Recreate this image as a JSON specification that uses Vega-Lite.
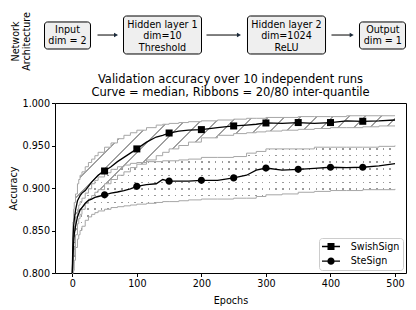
{
"$schema": "https://vega.github.io/schema/vega-lite/v6.json",
"padding": {"left": 7, "top": 11, "right": 5, "bottom": 5},
"spacing": 2,
"resolve": {"legend": {"shape": "independent"}},
"config": {
  "font": "DejaVu Sans",
  "view": {"stroke": null},
  "axis": {"labelFontSize": 9.6, "titleFontSize": 9.6, "titleFontWeight": "normal", "labelColor": "black", "titleColor": "black", "tickColor": "black", "tickSize": 3.5, "labelPadding": 2, "grid": false, "domain": false},
  "title": {"color": "black"}
},
"datasets": {
  "boxes": [
    {"label": "Input\ndim = 2", "x0": -0.0299, "x1": 0.1011, "y0": 0.362, "y1": 0.828, "xc": 0.0356, "yt": 0.784},
    {"label": "Hidden layer 1\ndim=10\nThreshold", "x0": 0.1952, "x1": 0.4174, "y0": 0.276, "y1": 0.931, "xc": 0.3063, "yt": 0.865},
    {"label": "Hidden layer 2\ndim=1024\nReLU", "x0": 0.5484, "x1": 0.7707, "y0": 0.276, "y1": 0.931, "xc": 0.6595, "yt": 0.865},
    {"label": "Output\ndim = 1", "x0": 0.8675, "x1": 0.9986, "y0": 0.362, "y1": 0.828, "xc": 0.9339, "yt": 0.784}
  ],
  "arrows": [
    {"x0": 0.1211, "x1": 0.1738, "y": 0.603},
    {"x0": 0.4316, "x1": 0.5242, "y": 0.603},
    {"x0": 0.7877, "x1": 0.8453, "y": 0.603}
  ],
  "runs": [
    {"epoch": 0, "series": "SwishSign", "median": 0.800, "lo": 0.800, "hi": 0.800},
    {"epoch": 1, "series": "SwishSign", "median": 0.840, "lo": 0.805, "hi": 0.860},
    {"epoch": 2, "series": "SwishSign", "median": 0.855, "lo": 0.820, "hi": 0.875},
    {"epoch": 3, "series": "SwishSign", "median": 0.862, "lo": 0.830, "hi": 0.883},
    {"epoch": 5, "series": "SwishSign", "median": 0.874, "lo": 0.845, "hi": 0.893},
    {"epoch": 8, "series": "SwishSign", "median": 0.885, "lo": 0.858, "hi": 0.905},
    {"epoch": 10, "series": "SwishSign", "median": 0.888, "lo": 0.864, "hi": 0.910},
    {"epoch": 12, "series": "SwishSign", "median": 0.891, "lo": 0.869, "hi": 0.915},
    {"epoch": 15, "series": "SwishSign", "median": 0.894, "lo": 0.875, "hi": 0.919},
    {"epoch": 20, "series": "SwishSign", "median": 0.897, "lo": 0.882, "hi": 0.925},
    {"epoch": 25, "series": "SwishSign", "median": 0.902, "lo": 0.887, "hi": 0.930},
    {"epoch": 30, "series": "SwishSign", "median": 0.907, "lo": 0.891, "hi": 0.934},
    {"epoch": 35, "series": "SwishSign", "median": 0.911, "lo": 0.895, "hi": 0.938},
    {"epoch": 40, "series": "SwishSign", "median": 0.915, "lo": 0.898, "hi": 0.942},
    {"epoch": 50, "series": "SwishSign", "median": 0.920, "lo": 0.905, "hi": 0.948},
    {"epoch": 60, "series": "SwishSign", "median": 0.925, "lo": 0.910, "hi": 0.953},
    {"epoch": 70, "series": "SwishSign", "median": 0.931, "lo": 0.915, "hi": 0.958},
    {"epoch": 80, "series": "SwishSign", "median": 0.936, "lo": 0.919, "hi": 0.962},
    {"epoch": 90, "series": "SwishSign", "median": 0.941, "lo": 0.924, "hi": 0.965},
    {"epoch": 100, "series": "SwishSign", "median": 0.946, "lo": 0.928, "hi": 0.968},
    {"epoch": 115, "series": "SwishSign", "median": 0.954, "lo": 0.933, "hi": 0.971},
    {"epoch": 130, "series": "SwishSign", "median": 0.960, "lo": 0.938, "hi": 0.974},
    {"epoch": 140, "series": "SwishSign", "median": 0.962, "lo": 0.942, "hi": 0.975},
    {"epoch": 150, "series": "SwishSign", "median": 0.9647, "lo": 0.946, "hi": 0.976},
    {"epoch": 165, "series": "SwishSign", "median": 0.967, "lo": 0.950, "hi": 0.977},
    {"epoch": 180, "series": "SwishSign", "median": 0.968, "lo": 0.954, "hi": 0.978},
    {"epoch": 200, "series": "SwishSign", "median": 0.9687, "lo": 0.959, "hi": 0.979},
    {"epoch": 225, "series": "SwishSign", "median": 0.971, "lo": 0.962, "hi": 0.980},
    {"epoch": 250, "series": "SwishSign", "median": 0.973, "lo": 0.964, "hi": 0.981},
    {"epoch": 270, "series": "SwishSign", "median": 0.974, "lo": 0.965, "hi": 0.982},
    {"epoch": 285, "series": "SwishSign", "median": 0.975, "lo": 0.966, "hi": 0.982},
    {"epoch": 300, "series": "SwishSign", "median": 0.9765, "lo": 0.967, "hi": 0.983},
    {"epoch": 325, "series": "SwishSign", "median": 0.976, "lo": 0.968, "hi": 0.983},
    {"epoch": 350, "series": "SwishSign", "median": 0.977, "lo": 0.969, "hi": 0.984},
    {"epoch": 375, "series": "SwishSign", "median": 0.976, "lo": 0.970, "hi": 0.984},
    {"epoch": 400, "series": "SwishSign", "median": 0.977, "lo": 0.971, "hi": 0.984},
    {"epoch": 425, "series": "SwishSign", "median": 0.979, "lo": 0.971, "hi": 0.985},
    {"epoch": 450, "series": "SwishSign", "median": 0.9785, "lo": 0.972, "hi": 0.985},
    {"epoch": 475, "series": "SwishSign", "median": 0.979, "lo": 0.973, "hi": 0.985},
    {"epoch": 500, "series": "SwishSign", "median": 0.980, "lo": 0.973, "hi": 0.985},
    {"epoch": 0, "series": "SteSign", "median": 0.800, "lo": 0.800, "hi": 0.800},
    {"epoch": 1, "series": "SteSign", "median": 0.820, "lo": 0.800, "hi": 0.830},
    {"epoch": 2, "series": "SteSign", "median": 0.835, "lo": 0.803, "hi": 0.845},
    {"epoch": 3, "series": "SteSign", "median": 0.845, "lo": 0.815, "hi": 0.855},
    {"epoch": 5, "series": "SteSign", "median": 0.855, "lo": 0.830, "hi": 0.866},
    {"epoch": 8, "series": "SteSign", "median": 0.866, "lo": 0.840, "hi": 0.875},
    {"epoch": 10, "series": "SteSign", "median": 0.870, "lo": 0.845, "hi": 0.880},
    {"epoch": 12, "series": "SteSign", "median": 0.874, "lo": 0.850, "hi": 0.884},
    {"epoch": 15, "series": "SteSign", "median": 0.877, "lo": 0.855, "hi": 0.888},
    {"epoch": 20, "series": "SteSign", "median": 0.882, "lo": 0.862, "hi": 0.894},
    {"epoch": 25, "series": "SteSign", "median": 0.8855, "lo": 0.866, "hi": 0.899},
    {"epoch": 30, "series": "SteSign", "median": 0.887, "lo": 0.869, "hi": 0.905},
    {"epoch": 35, "series": "SteSign", "median": 0.889, "lo": 0.871, "hi": 0.909},
    {"epoch": 40, "series": "SteSign", "median": 0.890, "lo": 0.873, "hi": 0.913},
    {"epoch": 50, "series": "SteSign", "median": 0.892, "lo": 0.875, "hi": 0.918},
    {"epoch": 60, "series": "SteSign", "median": 0.894, "lo": 0.877, "hi": 0.922},
    {"epoch": 70, "series": "SteSign", "median": 0.8953, "lo": 0.878, "hi": 0.925},
    {"epoch": 80, "series": "SteSign", "median": 0.897, "lo": 0.879, "hi": 0.927},
    {"epoch": 90, "series": "SteSign", "median": 0.899, "lo": 0.880, "hi": 0.929},
    {"epoch": 100, "series": "SteSign", "median": 0.902, "lo": 0.881, "hi": 0.930},
    {"epoch": 115, "series": "SteSign", "median": 0.904, "lo": 0.882, "hi": 0.931},
    {"epoch": 130, "series": "SteSign", "median": 0.905, "lo": 0.883, "hi": 0.931},
    {"epoch": 140, "series": "SteSign", "median": 0.910, "lo": 0.884, "hi": 0.932},
    {"epoch": 150, "series": "SteSign", "median": 0.908, "lo": 0.884, "hi": 0.932},
    {"epoch": 165, "series": "SteSign", "median": 0.908, "lo": 0.885, "hi": 0.933},
    {"epoch": 180, "series": "SteSign", "median": 0.908, "lo": 0.886, "hi": 0.934},
    {"epoch": 200, "series": "SteSign", "median": 0.909, "lo": 0.887, "hi": 0.936},
    {"epoch": 225, "series": "SteSign", "median": 0.909, "lo": 0.887, "hi": 0.936},
    {"epoch": 250, "series": "SteSign", "median": 0.9118, "lo": 0.888, "hi": 0.937},
    {"epoch": 270, "series": "SteSign", "median": 0.915, "lo": 0.888, "hi": 0.941},
    {"epoch": 285, "series": "SteSign", "median": 0.921, "lo": 0.890, "hi": 0.943},
    {"epoch": 300, "series": "SteSign", "median": 0.9235, "lo": 0.892, "hi": 0.946},
    {"epoch": 325, "series": "SteSign", "median": 0.921, "lo": 0.893, "hi": 0.946},
    {"epoch": 350, "series": "SteSign", "median": 0.922, "lo": 0.895, "hi": 0.946},
    {"epoch": 375, "series": "SteSign", "median": 0.923, "lo": 0.896, "hi": 0.948},
    {"epoch": 400, "series": "SteSign", "median": 0.9244, "lo": 0.897, "hi": 0.948},
    {"epoch": 425, "series": "SteSign", "median": 0.924, "lo": 0.897, "hi": 0.948},
    {"epoch": 450, "series": "SteSign", "median": 0.9244, "lo": 0.898, "hi": 0.948},
    {"epoch": 475, "series": "SteSign", "median": 0.926, "lo": 0.898, "hi": 0.949},
    {"epoch": 500, "series": "SteSign", "median": 0.9287, "lo": 0.899, "hi": 0.950}
  ]
},
"vconcat": [
  {
    "width": 351, "height": 58,
    "layer": [
      {"data": {"name": "boxes"},
       "mark": {"type": "rect", "fill": "#efefef", "stroke": "black", "strokeWidth": 1, "cornerRadius": 3},
       "encoding": {
         "x": {"field": "x0", "type": "quantitative", "scale": {"domain": [0, 1], "nice": false, "zero": false}, "axis": null},
         "x2": {"field": "x1"},
         "y": {"field": "y0", "type": "quantitative", "scale": {"domain": [0, 1], "nice": false, "zero": false}, "title": ["Network", "Architecture"],
               "axis": {"domain": false, "ticks": false, "labels": false, "grid": false, "titlePadding": 24, "titleFontSize": 9.6, "titleFontWeight": "normal", "titleLineHeight": 10.5}},
         "y2": {"field": "y1"}
       }},
      {"data": {"name": "boxes"},
       "mark": {"type": "text", "lineBreak": "\n", "fontSize": 9.6, "color": "black", "baseline": "top", "align": "center", "lineHeight": 11.5},
       "encoding": {
         "x": {"field": "xc", "type": "quantitative", "axis": null},
         "y": {"field": "yt", "type": "quantitative", "title": ["Network", "Architecture"]},
         "text": {"field": "label", "type": "nominal"}
       }},
      {"data": {"name": "arrows"},
       "mark": {"type": "rule", "color": "black", "strokeWidth": 1},
       "encoding": {
         "x": {"field": "x0", "type": "quantitative", "axis": null},
         "x2": {"field": "x1"},
         "y": {"field": "y", "type": "quantitative", "title": ["Network", "Architecture"]}
       }},
      {"data": {"name": "arrows"},
       "mark": {"type": "point", "shape": "triangle-right", "filled": true, "color": "#1b2a3a", "size": 22, "opacity": 1},
       "encoding": {
         "x": {"field": "x1", "type": "quantitative", "axis": null},
         "y": {"field": "y", "type": "quantitative", "title": ["Network", "Architecture"]}
       }}
    ]
  },
  {
    "width": 351, "height": 170,
    "view": {"stroke": "black", "strokeWidth": 1},
    "title": {"text": ["Validation accuracy over 10 independent runs", "Curve = median, Ribbons = 20/80 inter-quantile"], "fontSize": 11.5, "fontWeight": "normal", "lineHeight": 13, "offset": 0, "anchor": "middle", "color": "black"},
    "data": {"name": "runs"},
    "resolve": {"scale": {"shape": "independent"}, "legend": {"shape": "independent"}},
    "encoding": {
      "x": {"field": "epoch", "type": "quantitative", "scale": {"domain": [-26.8, 517], "nice": false, "zero": false},
            "axis": {"values": [0, 100, 200, 300, 400, 500], "title": "Epochs", "titlePadding": 7}}
    },
    "layer": [
      {"transform": [{"filter": "datum.series === 'SteSign'"}],
       "mark": {"type": "area", "interpolate": "step-after", "opacity": 1, "fill": {"gradient": "linear", "x1": 0, "y1": 0, "x2": 0, "y2": 1, "stops": [
         {"offset": 0, "color": "rgba(153,153,153,0)"},
         {"offset": 0.02, "color": "rgba(153,153,153,0)"}, {"offset": 0.02, "color": "#999999"}, {"offset": 0.032, "color": "#999999"}, {"offset": 0.032, "color": "rgba(153,153,153,0)"},
         {"offset": 0.0725, "color": "rgba(153,153,153,0)"}, {"offset": 0.0725, "color": "#999999"}, {"offset": 0.0845, "color": "#999999"}, {"offset": 0.0845, "color": "rgba(153,153,153,0)"},
         {"offset": 0.125, "color": "rgba(153,153,153,0)"}, {"offset": 0.125, "color": "#999999"}, {"offset": 0.137, "color": "#999999"}, {"offset": 0.137, "color": "rgba(153,153,153,0)"},
         {"offset": 0.1775, "color": "rgba(153,153,153,0)"}, {"offset": 0.1775, "color": "#999999"}, {"offset": 0.1895, "color": "#999999"}, {"offset": 0.1895, "color": "rgba(153,153,153,0)"},
         {"offset": 0.23, "color": "rgba(153,153,153,0)"}, {"offset": 0.23, "color": "#999999"}, {"offset": 0.242, "color": "#999999"}, {"offset": 0.242, "color": "rgba(153,153,153,0)"},
         {"offset": 0.2825, "color": "rgba(153,153,153,0)"}, {"offset": 0.2825, "color": "#999999"}, {"offset": 0.2945, "color": "#999999"}, {"offset": 0.2945, "color": "rgba(153,153,153,0)"},
         {"offset": 0.335, "color": "rgba(153,153,153,0)"}, {"offset": 0.335, "color": "#999999"}, {"offset": 0.347, "color": "#999999"}, {"offset": 0.347, "color": "rgba(153,153,153,0)"},
         {"offset": 0.3875, "color": "rgba(153,153,153,0)"}, {"offset": 0.3875, "color": "#999999"}, {"offset": 0.3995, "color": "#999999"}, {"offset": 0.3995, "color": "rgba(153,153,153,0)"},
         {"offset": 0.44, "color": "rgba(153,153,153,0)"}, {"offset": 0.44, "color": "#999999"}, {"offset": 0.452, "color": "#999999"}, {"offset": 0.452, "color": "rgba(153,153,153,0)"},
         {"offset": 0.4925, "color": "rgba(153,153,153,0)"}, {"offset": 0.4925, "color": "#999999"}, {"offset": 0.5045, "color": "#999999"}, {"offset": 0.5045, "color": "rgba(153,153,153,0)"},
         {"offset": 0.545, "color": "rgba(153,153,153,0)"}, {"offset": 0.545, "color": "#999999"}, {"offset": 0.557, "color": "#999999"}, {"offset": 0.557, "color": "rgba(153,153,153,0)"},
         {"offset": 0.5975, "color": "rgba(153,153,153,0)"}, {"offset": 0.5975, "color": "#999999"}, {"offset": 0.6095, "color": "#999999"}, {"offset": 0.6095, "color": "rgba(153,153,153,0)"},
         {"offset": 0.65, "color": "rgba(153,153,153,0)"}, {"offset": 0.65, "color": "#999999"}, {"offset": 0.662, "color": "#999999"}, {"offset": 0.662, "color": "rgba(153,153,153,0)"},
         {"offset": 0.7025, "color": "rgba(153,153,153,0)"}, {"offset": 0.7025, "color": "#999999"}, {"offset": 0.7145, "color": "#999999"}, {"offset": 0.7145, "color": "rgba(153,153,153,0)"},
         {"offset": 0.755, "color": "rgba(153,153,153,0)"}, {"offset": 0.755, "color": "#999999"}, {"offset": 0.767, "color": "#999999"}, {"offset": 0.767, "color": "rgba(153,153,153,0)"},
         {"offset": 0.8075, "color": "rgba(153,153,153,0)"}, {"offset": 0.8075, "color": "#999999"}, {"offset": 0.8195, "color": "#999999"}, {"offset": 0.8195, "color": "rgba(153,153,153,0)"},
         {"offset": 0.86, "color": "rgba(153,153,153,0)"}, {"offset": 0.86, "color": "#999999"}, {"offset": 0.872, "color": "#999999"}, {"offset": 0.872, "color": "rgba(153,153,153,0)"},
         {"offset": 0.9125, "color": "rgba(153,153,153,0)"}, {"offset": 0.9125, "color": "#999999"}, {"offset": 0.9245, "color": "#999999"}, {"offset": 0.9245, "color": "rgba(153,153,153,0)"},
         {"offset": 0.965, "color": "rgba(153,153,153,0)"}, {"offset": 0.965, "color": "#999999"}, {"offset": 0.977, "color": "#999999"}, {"offset": 0.977, "color": "rgba(153,153,153,0)"},
         {"offset": 1, "color": "rgba(153,153,153,0)"}
       ]}},
       "encoding": {
         "y": {"field": "lo", "type": "quantitative", "title": "Accuracy", "scale": {"domain": [0.8, 1.0], "nice": false, "zero": false},
               "axis": {"values": [0.8, 0.825, 0.85, 0.875, 0.9, 0.925, 0.95, 0.975, 1.0], "format": ".3f", "titlePadding": 4}},
         "y2": {"field": "hi"}
       }},
      {"transform": [{"filter": "datum.series === 'SteSign'"}],
       "mark": {"type": "area", "interpolate": "step-after", "opacity": 1, "fill": {"gradient": "linear", "x1": 0, "y1": 0, "x2": 1, "y2": 0, "stops": [
         {"offset": 0, "color": "#ffffff"},
         {"offset": 0.005, "color": "#ffffff"}, {"offset": 0.005, "color": "rgba(255,255,255,0)"}, {"offset": 0.010, "color": "rgba(255,255,255,0)"}, {"offset": 0.010, "color": "#ffffff"},
         {"offset": 0.0258, "color": "#ffffff"}, {"offset": 0.0258, "color": "rgba(255,255,255,0)"}, {"offset": 0.0308, "color": "rgba(255,255,255,0)"}, {"offset": 0.0308, "color": "#ffffff"},
         {"offset": 0.0466, "color": "#ffffff"}, {"offset": 0.0466, "color": "rgba(255,255,255,0)"}, {"offset": 0.0516, "color": "rgba(255,255,255,0)"}, {"offset": 0.0516, "color": "#ffffff"},
         {"offset": 0.0674, "color": "#ffffff"}, {"offset": 0.0674, "color": "rgba(255,255,255,0)"}, {"offset": 0.0724, "color": "rgba(255,255,255,0)"}, {"offset": 0.0724, "color": "#ffffff"},
         {"offset": 0.0882, "color": "#ffffff"}, {"offset": 0.0882, "color": "rgba(255,255,255,0)"}, {"offset": 0.0932, "color": "rgba(255,255,255,0)"}, {"offset": 0.0932, "color": "#ffffff"},
         {"offset": 0.109, "color": "#ffffff"}, {"offset": 0.109, "color": "rgba(255,255,255,0)"}, {"offset": 0.114, "color": "rgba(255,255,255,0)"}, {"offset": 0.114, "color": "#ffffff"},
         {"offset": 0.1298, "color": "#ffffff"}, {"offset": 0.1298, "color": "rgba(255,255,255,0)"}, {"offset": 0.1348, "color": "rgba(255,255,255,0)"}, {"offset": 0.1348, "color": "#ffffff"},
         {"offset": 0.1506, "color": "#ffffff"}, {"offset": 0.1506, "color": "rgba(255,255,255,0)"}, {"offset": 0.1556, "color": "rgba(255,255,255,0)"}, {"offset": 0.1556, "color": "#ffffff"},
         {"offset": 0.1714, "color": "#ffffff"}, {"offset": 0.1714, "color": "rgba(255,255,255,0)"}, {"offset": 0.1764, "color": "rgba(255,255,255,0)"}, {"offset": 0.1764, "color": "#ffffff"},
         {"offset": 0.1922, "color": "#ffffff"}, {"offset": 0.1922, "color": "rgba(255,255,255,0)"}, {"offset": 0.1972, "color": "rgba(255,255,255,0)"}, {"offset": 0.1972, "color": "#ffffff"},
         {"offset": 0.213, "color": "#ffffff"}, {"offset": 0.213, "color": "rgba(255,255,255,0)"}, {"offset": 0.218, "color": "rgba(255,255,255,0)"}, {"offset": 0.218, "color": "#ffffff"},
         {"offset": 0.2338, "color": "#ffffff"}, {"offset": 0.2338, "color": "rgba(255,255,255,0)"}, {"offset": 0.2388, "color": "rgba(255,255,255,0)"}, {"offset": 0.2388, "color": "#ffffff"},
         {"offset": 0.2546, "color": "#ffffff"}, {"offset": 0.2546, "color": "rgba(255,255,255,0)"}, {"offset": 0.2596, "color": "rgba(255,255,255,0)"}, {"offset": 0.2596, "color": "#ffffff"},
         {"offset": 0.2754, "color": "#ffffff"}, {"offset": 0.2754, "color": "rgba(255,255,255,0)"}, {"offset": 0.2804, "color": "rgba(255,255,255,0)"}, {"offset": 0.2804, "color": "#ffffff"},
         {"offset": 0.2962, "color": "#ffffff"}, {"offset": 0.2962, "color": "rgba(255,255,255,0)"}, {"offset": 0.3012, "color": "rgba(255,255,255,0)"}, {"offset": 0.3012, "color": "#ffffff"},
         {"offset": 0.317, "color": "#ffffff"}, {"offset": 0.317, "color": "rgba(255,255,255,0)"}, {"offset": 0.322, "color": "rgba(255,255,255,0)"}, {"offset": 0.322, "color": "#ffffff"},
         {"offset": 0.3378, "color": "#ffffff"}, {"offset": 0.3378, "color": "rgba(255,255,255,0)"}, {"offset": 0.3428, "color": "rgba(255,255,255,0)"}, {"offset": 0.3428, "color": "#ffffff"},
         {"offset": 0.3586, "color": "#ffffff"}, {"offset": 0.3586, "color": "rgba(255,255,255,0)"}, {"offset": 0.3636, "color": "rgba(255,255,255,0)"}, {"offset": 0.3636, "color": "#ffffff"},
         {"offset": 0.3794, "color": "#ffffff"}, {"offset": 0.3794, "color": "rgba(255,255,255,0)"}, {"offset": 0.3844, "color": "rgba(255,255,255,0)"}, {"offset": 0.3844, "color": "#ffffff"},
         {"offset": 0.4002, "color": "#ffffff"}, {"offset": 0.4002, "color": "rgba(255,255,255,0)"}, {"offset": 0.4052, "color": "rgba(255,255,255,0)"}, {"offset": 0.4052, "color": "#ffffff"},
         {"offset": 0.421, "color": "#ffffff"}, {"offset": 0.421, "color": "rgba(255,255,255,0)"}, {"offset": 0.426, "color": "rgba(255,255,255,0)"}, {"offset": 0.426, "color": "#ffffff"},
         {"offset": 0.4418, "color": "#ffffff"}, {"offset": 0.4418, "color": "rgba(255,255,255,0)"}, {"offset": 0.4468, "color": "rgba(255,255,255,0)"}, {"offset": 0.4468, "color": "#ffffff"},
         {"offset": 0.4626, "color": "#ffffff"}, {"offset": 0.4626, "color": "rgba(255,255,255,0)"}, {"offset": 0.4676, "color": "rgba(255,255,255,0)"}, {"offset": 0.4676, "color": "#ffffff"},
         {"offset": 0.4834, "color": "#ffffff"}, {"offset": 0.4834, "color": "rgba(255,255,255,0)"}, {"offset": 0.4884, "color": "rgba(255,255,255,0)"}, {"offset": 0.4884, "color": "#ffffff"},
         {"offset": 0.5042, "color": "#ffffff"}, {"offset": 0.5042, "color": "rgba(255,255,255,0)"}, {"offset": 0.5092, "color": "rgba(255,255,255,0)"}, {"offset": 0.5092, "color": "#ffffff"},
         {"offset": 0.525, "color": "#ffffff"}, {"offset": 0.525, "color": "rgba(255,255,255,0)"}, {"offset": 0.530, "color": "rgba(255,255,255,0)"}, {"offset": 0.530, "color": "#ffffff"},
         {"offset": 0.5458, "color": "#ffffff"}, {"offset": 0.5458, "color": "rgba(255,255,255,0)"}, {"offset": 0.5508, "color": "rgba(255,255,255,0)"}, {"offset": 0.5508, "color": "#ffffff"},
         {"offset": 0.5666, "color": "#ffffff"}, {"offset": 0.5666, "color": "rgba(255,255,255,0)"}, {"offset": 0.5716, "color": "rgba(255,255,255,0)"}, {"offset": 0.5716, "color": "#ffffff"},
         {"offset": 0.5874, "color": "#ffffff"}, {"offset": 0.5874, "color": "rgba(255,255,255,0)"}, {"offset": 0.5924, "color": "rgba(255,255,255,0)"}, {"offset": 0.5924, "color": "#ffffff"},
         {"offset": 0.6082, "color": "#ffffff"}, {"offset": 0.6082, "color": "rgba(255,255,255,0)"}, {"offset": 0.6132, "color": "rgba(255,255,255,0)"}, {"offset": 0.6132, "color": "#ffffff"},
         {"offset": 0.629, "color": "#ffffff"}, {"offset": 0.629, "color": "rgba(255,255,255,0)"}, {"offset": 0.634, "color": "rgba(255,255,255,0)"}, {"offset": 0.634, "color": "#ffffff"},
         {"offset": 0.6498, "color": "#ffffff"}, {"offset": 0.6498, "color": "rgba(255,255,255,0)"}, {"offset": 0.6548, "color": "rgba(255,255,255,0)"}, {"offset": 0.6548, "color": "#ffffff"},
         {"offset": 0.6706, "color": "#ffffff"}, {"offset": 0.6706, "color": "rgba(255,255,255,0)"}, {"offset": 0.6756, "color": "rgba(255,255,255,0)"}, {"offset": 0.6756, "color": "#ffffff"},
         {"offset": 0.6914, "color": "#ffffff"}, {"offset": 0.6914, "color": "rgba(255,255,255,0)"}, {"offset": 0.6964, "color": "rgba(255,255,255,0)"}, {"offset": 0.6964, "color": "#ffffff"},
         {"offset": 0.7122, "color": "#ffffff"}, {"offset": 0.7122, "color": "rgba(255,255,255,0)"}, {"offset": 0.7172, "color": "rgba(255,255,255,0)"}, {"offset": 0.7172, "color": "#ffffff"},
         {"offset": 0.733, "color": "#ffffff"}, {"offset": 0.733, "color": "rgba(255,255,255,0)"}, {"offset": 0.738, "color": "rgba(255,255,255,0)"}, {"offset": 0.738, "color": "#ffffff"},
         {"offset": 0.7538, "color": "#ffffff"}, {"offset": 0.7538, "color": "rgba(255,255,255,0)"}, {"offset": 0.7588, "color": "rgba(255,255,255,0)"}, {"offset": 0.7588, "color": "#ffffff"},
         {"offset": 0.7746, "color": "#ffffff"}, {"offset": 0.7746, "color": "rgba(255,255,255,0)"}, {"offset": 0.7796, "color": "rgba(255,255,255,0)"}, {"offset": 0.7796, "color": "#ffffff"},
         {"offset": 0.7954, "color": "#ffffff"}, {"offset": 0.7954, "color": "rgba(255,255,255,0)"}, {"offset": 0.8004, "color": "rgba(255,255,255,0)"}, {"offset": 0.8004, "color": "#ffffff"},
         {"offset": 0.8162, "color": "#ffffff"}, {"offset": 0.8162, "color": "rgba(255,255,255,0)"}, {"offset": 0.8212, "color": "rgba(255,255,255,0)"}, {"offset": 0.8212, "color": "#ffffff"},
         {"offset": 0.837, "color": "#ffffff"}, {"offset": 0.837, "color": "rgba(255,255,255,0)"}, {"offset": 0.842, "color": "rgba(255,255,255,0)"}, {"offset": 0.842, "color": "#ffffff"},
         {"offset": 0.8578, "color": "#ffffff"}, {"offset": 0.8578, "color": "rgba(255,255,255,0)"}, {"offset": 0.8628, "color": "rgba(255,255,255,0)"}, {"offset": 0.8628, "color": "#ffffff"},
         {"offset": 0.8786, "color": "#ffffff"}, {"offset": 0.8786, "color": "rgba(255,255,255,0)"}, {"offset": 0.8836, "color": "rgba(255,255,255,0)"}, {"offset": 0.8836, "color": "#ffffff"},
         {"offset": 0.8994, "color": "#ffffff"}, {"offset": 0.8994, "color": "rgba(255,255,255,0)"}, {"offset": 0.9044, "color": "rgba(255,255,255,0)"}, {"offset": 0.9044, "color": "#ffffff"},
         {"offset": 0.9202, "color": "#ffffff"}, {"offset": 0.9202, "color": "rgba(255,255,255,0)"}, {"offset": 0.9252, "color": "rgba(255,255,255,0)"}, {"offset": 0.9252, "color": "#ffffff"},
         {"offset": 0.941, "color": "#ffffff"}, {"offset": 0.941, "color": "rgba(255,255,255,0)"}, {"offset": 0.946, "color": "rgba(255,255,255,0)"}, {"offset": 0.946, "color": "#ffffff"},
         {"offset": 0.9618, "color": "#ffffff"}, {"offset": 0.9618, "color": "rgba(255,255,255,0)"}, {"offset": 0.9668, "color": "rgba(255,255,255,0)"}, {"offset": 0.9668, "color": "#ffffff"},
         {"offset": 0.9826, "color": "#ffffff"}, {"offset": 0.9826, "color": "rgba(255,255,255,0)"}, {"offset": 0.9876, "color": "rgba(255,255,255,0)"}, {"offset": 0.9876, "color": "#ffffff"},
         {"offset": 1, "color": "#ffffff"}
       ]}},
       "encoding": {
         "y": {"field": "lo", "type": "quantitative", "title": "Accuracy"},
         "y2": {"field": "hi"}
       }},
      {"transform": [{"filter": "datum.series === 'SwishSign'"}],
       "mark": {"type": "area", "interpolate": "step-after", "opacity": 1, "fill": {"gradient": "linear", "x1": 0, "y1": 0, "x2": 1.21, "y2": 0.59, "stops": [
         {"offset": 0, "color": "rgba(160,160,160,0)"},
         {"offset": 0.0100, "color": "rgba(160,160,160,0)"}, {"offset": 0.0100, "color": "#a0a0a0"}, {"offset": 0.0135, "color": "#a0a0a0"}, {"offset": 0.0135, "color": "rgba(160,160,160,0)"},
         {"offset": 0.0431, "color": "rgba(160,160,160,0)"}, {"offset": 0.0431, "color": "#a0a0a0"}, {"offset": 0.0466, "color": "#a0a0a0"}, {"offset": 0.0466, "color": "rgba(160,160,160,0)"},
         {"offset": 0.0762, "color": "rgba(160,160,160,0)"}, {"offset": 0.0762, "color": "#a0a0a0"}, {"offset": 0.0797, "color": "#a0a0a0"}, {"offset": 0.0797, "color": "rgba(160,160,160,0)"},
         {"offset": 0.1093, "color": "rgba(160,160,160,0)"}, {"offset": 0.1093, "color": "#a0a0a0"}, {"offset": 0.1128, "color": "#a0a0a0"}, {"offset": 0.1128, "color": "rgba(160,160,160,0)"},
         {"offset": 0.1424, "color": "rgba(160,160,160,0)"}, {"offset": 0.1424, "color": "#a0a0a0"}, {"offset": 0.1459, "color": "#a0a0a0"}, {"offset": 0.1459, "color": "rgba(160,160,160,0)"},
         {"offset": 0.1755, "color": "rgba(160,160,160,0)"}, {"offset": 0.1755, "color": "#a0a0a0"}, {"offset": 0.1790, "color": "#a0a0a0"}, {"offset": 0.1790, "color": "rgba(160,160,160,0)"},
         {"offset": 0.2086, "color": "rgba(160,160,160,0)"}, {"offset": 0.2086, "color": "#a0a0a0"}, {"offset": 0.2121, "color": "#a0a0a0"}, {"offset": 0.2121, "color": "rgba(160,160,160,0)"},
         {"offset": 0.2417, "color": "rgba(160,160,160,0)"}, {"offset": 0.2417, "color": "#a0a0a0"}, {"offset": 0.2452, "color": "#a0a0a0"}, {"offset": 0.2452, "color": "rgba(160,160,160,0)"},
         {"offset": 0.2748, "color": "rgba(160,160,160,0)"}, {"offset": 0.2748, "color": "#a0a0a0"}, {"offset": 0.2783, "color": "#a0a0a0"}, {"offset": 0.2783, "color": "rgba(160,160,160,0)"},
         {"offset": 0.3079, "color": "rgba(160,160,160,0)"}, {"offset": 0.3079, "color": "#a0a0a0"}, {"offset": 0.3114, "color": "#a0a0a0"}, {"offset": 0.3114, "color": "rgba(160,160,160,0)"},
         {"offset": 0.3410, "color": "rgba(160,160,160,0)"}, {"offset": 0.3410, "color": "#a0a0a0"}, {"offset": 0.3445, "color": "#a0a0a0"}, {"offset": 0.3445, "color": "rgba(160,160,160,0)"},
         {"offset": 0.3741, "color": "rgba(160,160,160,0)"}, {"offset": 0.3741, "color": "#a0a0a0"}, {"offset": 0.3776, "color": "#a0a0a0"}, {"offset": 0.3776, "color": "rgba(160,160,160,0)"},
         {"offset": 0.4072, "color": "rgba(160,160,160,0)"}, {"offset": 0.4072, "color": "#a0a0a0"}, {"offset": 0.4107, "color": "#a0a0a0"}, {"offset": 0.4107, "color": "rgba(160,160,160,0)"},
         {"offset": 0.4403, "color": "rgba(160,160,160,0)"}, {"offset": 0.4403, "color": "#a0a0a0"}, {"offset": 0.4438, "color": "#a0a0a0"}, {"offset": 0.4438, "color": "rgba(160,160,160,0)"},
         {"offset": 0.4734, "color": "rgba(160,160,160,0)"}, {"offset": 0.4734, "color": "#a0a0a0"}, {"offset": 0.4769, "color": "#a0a0a0"}, {"offset": 0.4769, "color": "rgba(160,160,160,0)"},
         {"offset": 0.5065, "color": "rgba(160,160,160,0)"}, {"offset": 0.5065, "color": "#a0a0a0"}, {"offset": 0.5100, "color": "#a0a0a0"}, {"offset": 0.5100, "color": "rgba(160,160,160,0)"},
         {"offset": 0.5396, "color": "rgba(160,160,160,0)"}, {"offset": 0.5396, "color": "#a0a0a0"}, {"offset": 0.5431, "color": "#a0a0a0"}, {"offset": 0.5431, "color": "rgba(160,160,160,0)"},
         {"offset": 0.5727, "color": "rgba(160,160,160,0)"}, {"offset": 0.5727, "color": "#a0a0a0"}, {"offset": 0.5762, "color": "#a0a0a0"}, {"offset": 0.5762, "color": "rgba(160,160,160,0)"},
         {"offset": 0.6058, "color": "rgba(160,160,160,0)"}, {"offset": 0.6058, "color": "#a0a0a0"}, {"offset": 0.6093, "color": "#a0a0a0"}, {"offset": 0.6093, "color": "rgba(160,160,160,0)"},
         {"offset": 0.6389, "color": "rgba(160,160,160,0)"}, {"offset": 0.6389, "color": "#a0a0a0"}, {"offset": 0.6424, "color": "#a0a0a0"}, {"offset": 0.6424, "color": "rgba(160,160,160,0)"},
         {"offset": 0.6720, "color": "rgba(160,160,160,0)"}, {"offset": 0.6720, "color": "#a0a0a0"}, {"offset": 0.6755, "color": "#a0a0a0"}, {"offset": 0.6755, "color": "rgba(160,160,160,0)"},
         {"offset": 0.7051, "color": "rgba(160,160,160,0)"}, {"offset": 0.7051, "color": "#a0a0a0"}, {"offset": 0.7086, "color": "#a0a0a0"}, {"offset": 0.7086, "color": "rgba(160,160,160,0)"},
         {"offset": 0.7382, "color": "rgba(160,160,160,0)"}, {"offset": 0.7382, "color": "#a0a0a0"}, {"offset": 0.7417, "color": "#a0a0a0"}, {"offset": 0.7417, "color": "rgba(160,160,160,0)"},
         {"offset": 0.7713, "color": "rgba(160,160,160,0)"}, {"offset": 0.7713, "color": "#a0a0a0"}, {"offset": 0.7748, "color": "#a0a0a0"}, {"offset": 0.7748, "color": "rgba(160,160,160,0)"},
         {"offset": 0.8044, "color": "rgba(160,160,160,0)"}, {"offset": 0.8044, "color": "#a0a0a0"}, {"offset": 0.8079, "color": "#a0a0a0"}, {"offset": 0.8079, "color": "rgba(160,160,160,0)"},
         {"offset": 0.8375, "color": "rgba(160,160,160,0)"}, {"offset": 0.8375, "color": "#a0a0a0"}, {"offset": 0.8410, "color": "#a0a0a0"}, {"offset": 0.8410, "color": "rgba(160,160,160,0)"},
         {"offset": 0.8706, "color": "rgba(160,160,160,0)"}, {"offset": 0.8706, "color": "#a0a0a0"}, {"offset": 0.8741, "color": "#a0a0a0"}, {"offset": 0.8741, "color": "rgba(160,160,160,0)"},
         {"offset": 0.9037, "color": "rgba(160,160,160,0)"}, {"offset": 0.9037, "color": "#a0a0a0"}, {"offset": 0.9072, "color": "#a0a0a0"}, {"offset": 0.9072, "color": "rgba(160,160,160,0)"},
         {"offset": 0.9368, "color": "rgba(160,160,160,0)"}, {"offset": 0.9368, "color": "#a0a0a0"}, {"offset": 0.9403, "color": "#a0a0a0"}, {"offset": 0.9403, "color": "rgba(160,160,160,0)"},
         {"offset": 0.9699, "color": "rgba(160,160,160,0)"}, {"offset": 0.9699, "color": "#a0a0a0"}, {"offset": 0.9734, "color": "#a0a0a0"}, {"offset": 0.9734, "color": "rgba(160,160,160,0)"},
         {"offset": 1, "color": "rgba(160,160,160,0)"}
       ]}},
       "encoding": {
         "y": {"field": "lo", "type": "quantitative", "title": "Accuracy"},
         "y2": {"field": "hi"}
       }},
      {"transform": [{"fold": ["lo", "hi"], "as": ["bound", "val"]}],
       "mark": {"type": "line", "interpolate": "step-after", "color": "#a6a6a6", "strokeWidth": 1},
       "encoding": {
         "y": {"field": "val", "type": "quantitative", "title": "Accuracy"},
         "detail": [{"field": "series", "type": "nominal"}, {"field": "bound", "type": "nominal"}]
       }},
      {"mark": {"type": "line", "color": "black", "strokeWidth": 1.3},
       "encoding": {
         "y": {"field": "median", "type": "quantitative", "title": "Accuracy"},
         "detail": {"field": "series", "type": "nominal"}
       }},
      {"transform": [{"filter": {"field": "epoch", "oneOf": [50, 100, 150, 200, 250, 300, 350, 400, 450]}}],
       "mark": {"type": "point", "filled": true, "color": "black", "size": 324, "opacity": 1},
       "encoding": {
         "y": {"field": "median", "type": "quantitative", "title": "Accuracy"},
         "shape": {"field": "series", "type": "nominal",
           "scale": {"domain": ["SwishSign", "SteSign"], "range": ["M-0.39,-0.39H0.39V0.39H-0.39Z", "M-0.4,0A0.4,0.4,0,1,1,0.4,0A0.4,0.4,0,1,1,-0.4,0Z"]},
           "legend": null}
       }},
      {"transform": [{"filter": {"field": "epoch", "oneOf": [50, 100]}}],
       "mark": {"type": "point", "filled": true, "color": "black", "size": 100, "opacity": 0},
       "encoding": {
         "y": {"field": "median", "type": "quantitative", "title": "Accuracy"},
         "shape": {"field": "series", "type": "nominal",
           "scale": {"domain": ["SwishSign", "SteSign"], "range": ["M-1.8,-0.13H1.8V0.13H-1.8ZM-0.7,-0.7H0.7V0.7H-0.7Z", "M-1.8,-0.13H1.8V0.13H-1.8ZM-0.72,0A0.72,0.72,0,1,1,0.72,0A0.72,0.72,0,1,1,-0.72,0Z"]},
           "legend": {"title": null, "orient": "bottom-right", "offset": 3, "symbolSize": 100, "symbolOffset": 3.5, "symbolOpacity": 1, "symbolFillColor": "black", "symbolStrokeWidth": 0, "labelFontSize": 9.6, "labelColor": "black", "labelOffset": 14.7, "padding": 3.5, "rowPadding": 4.7, "strokeColor": "#cccccc", "fillColor": "white", "cornerRadius": 3}}
       }}
    ]
  }
]
}
